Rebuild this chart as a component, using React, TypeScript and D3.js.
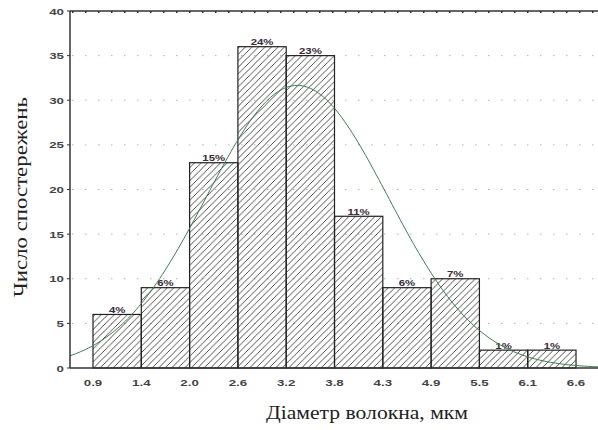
import React from 'react'
import * as d3 from 'd3'

// bin edges (mkm) and their printed labels
const BIN_EDGES = [0.9, 1.47, 2.04, 2.61, 3.18, 3.75, 4.32, 4.89, 5.46, 6.03, 6.6]
const TICK_LABELS = ['0.9', '1.4', '2.0', '2.6', '3.2', '3.8', '4.3', '4.9', '5.5', '6.1', '6.6']
const COUNTS = [6, 9, 23, 36, 35, 17, 9, 10, 2, 2]
const PERCENTS = ['4%', '6%', '15%', '24%', '23%', '11%', '6%', '7%', '1%', '1%']
const Y_TICKS = [0, 5, 10, 15, 20, 25, 30, 35, 40]

// fitted normal curve
const FIT_MEAN = 3.31
const FIT_SD = 1.07

const W = 598
const H = 430
const M = { top: 11, right: 0, bottom: 62, left: 70 }
const SANS = 'Liberation Sans, Arial, sans-serif'
const SERIF = 'Liberation Serif, Times New Roman, serif'

// the source picture is stretched sideways, so small labels are widened
function Wide({ x, y, anchor, sx, size, fill, children }: any) {
  return (
    <text transform={`translate(${x},${y}) scale(${sx},1)`} textAnchor={anchor}
      fontFamily={SANS} fontSize={size} fontWeight={700} fill={fill}>{children}</text>
  )
}

export default function App() {
  const binW = BIN_EDGES[1] - BIN_EDGES[0]
  const x = d3.scaleLinear()
    .domain([BIN_EDGES[0] - 0.476 * binW, BIN_EDGES[BIN_EDGES.length - 1] + 0.455 * binW])
    .range([M.left, W - M.right])
  const y = d3.scaleLinear().domain([0, 40]).range([H - M.bottom, M.top])

  const total = d3.sum(COUNTS)
  const pdf = (v: number) => total * binW * Math.exp(-0.5 * ((v - FIT_MEAN) / FIT_SD) ** 2) / (FIT_SD * Math.sqrt(2 * Math.PI))
  const [x0, x1] = x.domain()
  const pts = d3.range(0, 201).map((i) => x0 + (x1 - x0) * i / 200)
  const curve = d3.line<number>().x((v) => x(v)).y((v) => y(pdf(v)))(pts) || ''

  const bottom = y(0)

  return (
    <div style={{ position: 'fixed', left: 0, top: 0 }}>
      <svg width={W} height={H} style={{ display: 'block', background: '#fff' }}>
        <defs>
          <pattern id="hatch" patternUnits="userSpaceOnUse" width={6.5} height={6.5}>
            <path d="M-1,1 L1,-1 M0,6.5 L6.5,0 M5.5,7.5 L7.5,5.5" stroke="#222" strokeWidth={0.8} />
          </pattern>
        </defs>

        {/* dotted grid */}
        {Y_TICKS.filter((t) => t > 0 && t < 40).map((t) => (
          <line key={t} x1={M.left + 2} x2={W} y1={y(t)} y2={y(t)}
            stroke="#b0b0b0" strokeWidth={1} strokeDasharray="1.5,11.5" />
        ))}
        <line x1={M.left} x2={W} y1={y(40)} y2={y(40)} stroke="#333" strokeWidth={1.5} />
        <line x1={M.left + 2} x2={W} y1={y(40) + 1} y2={y(40) + 1} stroke="#333" strokeWidth={2} strokeDasharray="1.5,11.5" />

        {/* bars */}
        {COUNTS.map((c, i) => (
          <g key={i}>
            <rect x={x(BIN_EDGES[i])} y={y(c)} width={x(BIN_EDGES[i + 1]) - x(BIN_EDGES[i])} height={bottom - y(c)}
              fill="url(#hatch)" stroke="#222" strokeWidth={1.2} />
            <Wide x={(x(BIN_EDGES[i]) + x(BIN_EDGES[i + 1])) / 2} y={y(c) - 1.5} anchor="middle"
              sx={1.2} size={9.5} fill="#3a2c3a">{PERCENTS[i]}</Wide>
          </g>
        ))}

        {/* normal curve */}
        <path d={curve} fill="none" stroke="#3f7d4f" strokeWidth={1} />

        {/* axes */}
        <line x1={M.left} x2={M.left} y1={y(40)} y2={bottom} stroke="#333" strokeWidth={1.5} />
        <line x1={M.left} x2={W} y1={bottom} y2={bottom} stroke="#333" strokeWidth={1.5} />
        {Y_TICKS.map((t) => (
          <g key={t}>
            <line x1={M.left - 3} x2={M.left} y1={y(t)} y2={y(t)} stroke="#333" strokeWidth={1} />
            <Wide x={M.left - 6} y={y(t) + 3.5} anchor="end" sx={1.4} size={9.5} fill="#444">{t}</Wide>
          </g>
        ))}
        {BIN_EDGES.map((e, i) => (
          <Wide key={i} x={x(e)} y={bottom + 18} anchor="middle" sx={1.4} size={9.5} fill="#444">{TICK_LABELS[i]}</Wide>
        ))}

        <text x={367} y={419} textAnchor="middle" fontFamily={SERIF} fontSize={18} fill="#222"
          textLength={202} lengthAdjust="spacingAndGlyphs">
          Діаметр волокна, мкм
        </text>
        <text transform={`translate(27,197) rotate(-90)`} textAnchor="middle"
          fontFamily={SERIF} fontSize={18} fill="#222" textLength={200} lengthAdjust="spacingAndGlyphs">
          Число спостережень
        </text>
      </svg>
    </div>
  )
}
